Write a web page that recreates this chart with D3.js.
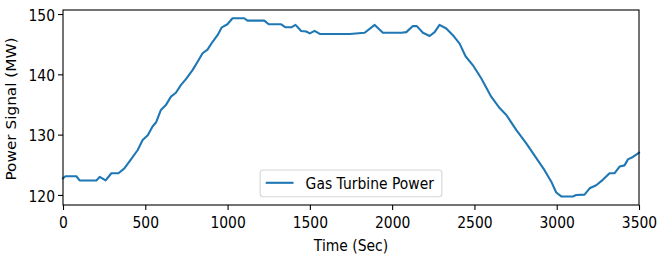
<!DOCTYPE html>
<html>
<head>
<meta charset="utf-8">
<script src="https://cdn.jsdelivr.net/npm/d3@7"></script>
<style>
  body { margin: 0; background: #fff; }
  .axis text { font-family: "DejaVu Sans", sans-serif; font-size: 13.9px; fill: #000; }
  .axis path, .axis line { stroke: #000; stroke-width: 1.1px; }
</style>
</head>
<body>
<svg class="chart" width="663" height="261"></svg>
<script>
// time (sec) and gas turbine power (MW)
var times = [0, 15, 81, 101, 203, 223, 259, 294, 337, 373, 413, 454, 484, 515, 545, 565, 595, 625, 656, 686, 716, 747, 787, 818, 848, 878, 909, 939, 965, 999, 1030, 1101, 1121, 1223, 1250, 1326, 1352, 1387, 1413, 1447, 1478, 1499, 1529, 1560, 1681, 1742, 1833, 1894, 1944, 2056, 2086, 2126, 2150, 2187, 2228, 2258, 2288, 2329, 2369, 2410, 2446, 2491, 2542, 2602, 2653, 2694, 2754, 2815, 2876, 2926, 2967, 2997, 3028, 3098, 3119, 3169, 3200, 3240, 3280, 3321, 3352, 3382, 3412, 3433, 3463, 3500];
var power = [122.75, 123.1, 123.1, 122.4, 122.4, 123.0, 122.4, 123.6, 123.6, 124.4, 125.9, 127.45, 129.1, 129.9, 131.4, 132.0, 134.1, 134.9, 136.3, 136.95, 138.2, 139.2, 140.7, 142.1, 143.5, 144.1, 145.4, 146.5, 147.8, 148.3, 149.3, 149.3, 148.9, 148.9, 148.3, 148.3, 147.8, 147.8, 148.2, 147.2, 147.1, 146.8, 147.2, 146.7, 146.7, 146.7, 146.9, 148.2, 146.9, 146.9, 147.0, 148.0, 148.0, 146.9, 146.35, 147.0, 148.2, 147.6, 146.5, 145.1, 143.0, 141.5, 139.3, 136.3, 134.4, 133.25, 130.8, 128.55, 126.1, 124.1, 122.2, 120.4, 119.75, 119.75, 120.0, 120.05, 121.1, 121.6, 122.5, 123.6, 123.6, 124.7, 124.9, 125.9, 126.3, 127.0];
var xTicks = [0, 500, 1000, 1500, 2000, 2500, 3000, 3500];
var yTicks = [120, 130, 140, 150];
var seriesName = "Gas Turbine Power";

var svg = d3.select(".chart"),
    margin = {top: 10, right: 24, bottom: 56, left: 63},
    width = svg.attr("width") - margin.left - margin.right,
    height = svg.attr("height") - margin.top - margin.bottom;

// the picture is a little taller than wide in its glyphs
var stretch = 1.1;
var font = "13.9px 'DejaVu Sans', sans-serif";

var data = times.map(function(t, i) { return {t: t, p: power[i]}; });

var x = d3.scaleLinear().domain([0, 3500]).range([0, width]);
var y = d3.scaleLinear().domain([118.33, 150.67]).range([height, 0]);

var g = svg.append("g").attr("transform", "translate(" + margin.left + "," + margin.top + ")");

var line = d3.line()
    .x(function(d) { return x(d.t); })
    .y(function(d) { return y(d.p); });

g.append("path")
    .datum(data)
    .attr("fill", "none")
    .attr("stroke", "#1f77b4")
    .attr("stroke-width", 2.1)
    .attr("stroke-linejoin", "round")
    .attr("stroke-linecap", "square")
    .attr("d", line);

// frame
g.append("rect")
    .attr("width", width).attr("height", height)
    .attr("fill", "none").attr("stroke", "#000").attr("stroke-width", 1.1);

var xAxis = g.append("g")
    .attr("class", "axis")
    .attr("transform", "translate(0," + height + ")")
    .call(d3.axisBottom(x).tickValues(xTicks).tickFormat(d3.format("d")).tickSize(5).tickSizeOuter(0));
xAxis.select(".domain").remove();
xAxis.selectAll("text")
    .attr("y", 0).attr("dy", 0)
    .attr("transform", "translate(0,23.3) scale(1," + stretch + ")");

var yAxis = g.append("g")
    .attr("class", "axis")
    .call(d3.axisLeft(y).tickValues(yTicks).tickFormat(d3.format("d")).tickSize(5).tickSizeOuter(0));
yAxis.select(".domain").remove();
yAxis.selectAll("text")
    .attr("x", 0).attr("dy", "0.36em")
    .attr("transform", "translate(-8,0.6) scale(1," + stretch + ")");

svg.append("text")
    .attr("transform", "translate(" + (margin.left + width / 2) + ",250.7) scale(1," + stretch + ")")
    .attr("text-anchor", "middle")
    .style("font", font)
    .text("Time (Sec)");

svg.append("text")
    .attr("transform", "translate(15.8," + (margin.top + height / 2 + 1.5) + ") scale(1," + stretch + ") rotate(-90)")
    .attr("text-anchor", "middle")
    .style("font", font)
    .text("Power Signal (MW)");

// legend, lower center
var leg = g.append("g");
var legText = leg.append("text")
    .style("font", font)
    .text(seriesName);
var tw = legText.node().getComputedTextLength();
var boxW = 45.5 + tw + 8, boxH = 26.7;
var bx = (width - boxW) / 2, by = height - 8.3 - boxH;
leg.insert("rect", "text")
    .attr("x", bx).attr("y", by)
    .attr("width", boxW).attr("height", boxH)
    .attr("rx", 3)
    .attr("fill", "#fff").attr("fill-opacity", 0.8)
    .attr("stroke", "#d6d6d6").attr("stroke-width", 1.1);
leg.append("line")
    .attr("x1", bx + 5.6).attr("x2", bx + 33.4)
    .attr("y1", by + 12.8).attr("y2", by + 12.8)
    .attr("stroke", "#1f77b4").attr("stroke-width", 2.1);
legText.attr("transform", "translate(" + (bx + 45.5) + "," + (by + 18.5) + ") scale(1," + stretch + ")");
</script>
</body>
</html>
